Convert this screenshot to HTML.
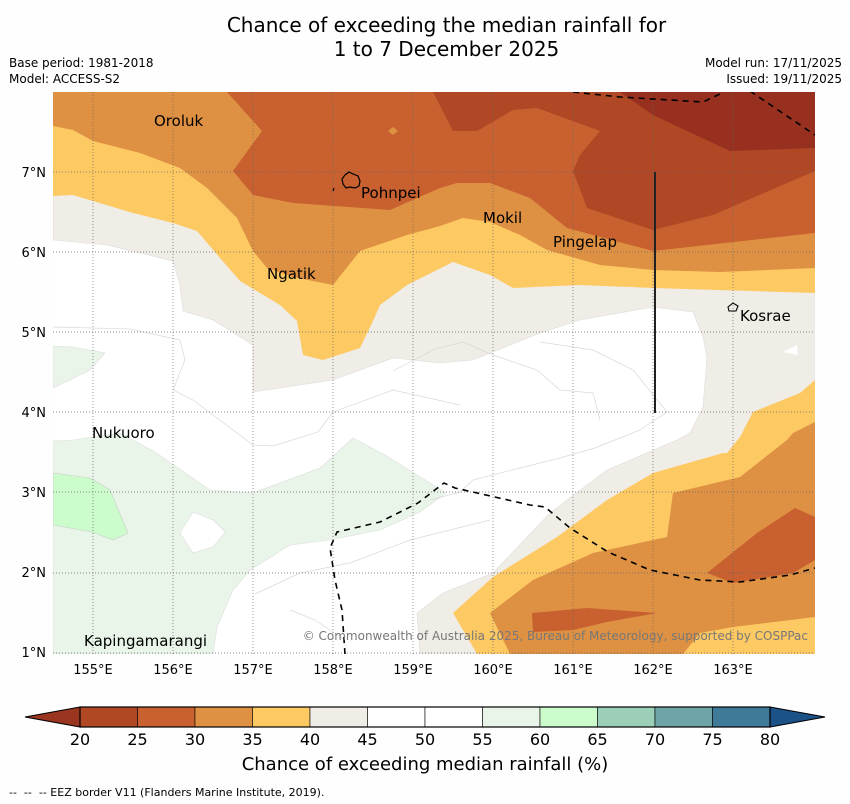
<!DOCTYPE html>
<html><head><meta charset="utf-8"><style>
body{margin:0;background:#fefefe;font-family:"DejaVu Sans","Liberation Sans",sans-serif;}
#wrap{position:relative;width:850px;height:804px;overflow:hidden;background:#fefefe;}
.t{position:absolute;white-space:nowrap;color:#000;}
</style></head><body>
<div id="wrap">
<div class="t" style="left:0;width:893px;top:13px;text-align:center;font-size:20px;line-height:24px;">Chance of exceeding the median rainfall for<br>1 to 7 December 2025</div>
<div class="t" style="left:9px;top:55px;font-size:12px;line-height:16px;">Base period: 1981-2018<br>Model: ACCESS-S2</div>
<div class="t" style="right:8px;top:55px;font-size:12px;line-height:16px;text-align:right;">Model run: 17/11/2025<br>Issued: 19/11/2025</div>
<svg id="map" width="850" height="804" style="position:absolute;left:0;top:0" xmlns="http://www.w3.org/2000/svg">
<defs><clipPath id="mc"><rect x="53" y="92" width="762" height="562"/></clipPath></defs>
<g clip-path="url(#mc)">
<rect x="53" y="92" width="762" height="562" fill="#ffffff"/>
<path fill="#f0ece6" stroke="#ddd" stroke-width="0.6" d="M53,92 L815,92 L815,654 L420,654 L417,613 L443,593 L493,573 L550,513 L607,470 L677,440 L690,433 L703,407 L707,357 L703,337 L693,312 L653,307 L580,320 L540,333 L473,360 L440,363 L393,358 L333,380 L293,386 L253,392 L253,345 L213,320 L183,311 L180,285 L173,261 L107,245 L53,240 Z"/>
<path fill="#fff" d="M783,352 L797,345 L798,355 Z"/>
<path fill="#fdc963" d="M53,92 L815,92 L815,293 L653,288 L580,285 L513,288 L490,275 L453,262 L407,285 L380,305 L373,321 L360,348 L323,360 L303,355 L297,321 L280,305 L240,281 L220,258 L197,231 L173,223 L133,213 L73,195 L53,196 Z"/>
<path fill="#fdc963" d="M815,380 L800,393 L753,412 L740,437 L727,453 L723,453 L653,473 L607,500 L557,537 L493,577 L453,613 L477,654 L815,654 Z"/>
<path fill="#df9143" d="M53,92 L815,92 L815,268 L720,272 L653,270 L600,265 L547,250 L520,235 L490,222 L463,218 L440,226 L407,235 L360,251 L333,285 L293,277 L267,268 L253,251 L237,218 L207,188 L180,168 L140,153 L93,141 L73,130 L53,126 Z"/>
<path fill="#df9143" d="M815,422 L793,433 L787,440 L740,477 L673,493 L667,537 L593,553 L533,580 L490,613 L510,654 L683,654 L700,633 L733,627 L815,617 Z"/>
<path fill="#c8602f" d="M227,92 L815,92 L815,233 L653,251 L567,228 L530,198 L490,183 L457,183 L440,188 L390,210 L293,203 L253,195 L233,171 L262,131 Z"/>
<path fill="#df9143" d="M393,127 L398,131 L393,135 L388,131 Z"/>
<path fill="#c8602f" d="M532,613 L587,608 L657,613 L607,622 L573,630 L533,632 Z"/>
<path fill="#c8602f" d="M707,573 L757,533 L795,508 L815,517 L815,560 L793,573 L733,583 Z"/>
<path fill="#b04826" d="M433,92 L815,92 L815,171 L713,215 L653,230 L587,208 L573,171 L580,155 L600,131 L537,108 L513,110 L477,131 L453,131 Z"/>
<path fill="#97301f" d="M620,92 L815,92 L815,148 L730,151 L687,131 L653,115 Z"/>
<path fill="#e9f5e9" stroke="#ddd" stroke-width="0.6" d="M53,346 L73,347 L105,353 L90,370 L70,380 L53,388 Z"/>
<path fill="#e9f5e9" stroke="#ddd" stroke-width="0.6" d="M53,441 L73,440 L120,433 L155,452 L210,490 L253,493 L320,468 L353,438 L385,455 L446,493 L420,512 L380,530 L330,540 L290,545 L250,570 L233,590 L217,627 L213,654 L53,654 Z"/>
<path fill="#fff" stroke="#ddd" stroke-width="0.6" d="M193,512 L213,520 L225,532 L213,547 L193,553 L180,533 Z"/>
<path fill="#ccfccc" stroke="#ccc" stroke-width="0.6" d="M53,473 L90,478 L110,490 L128,533 L113,540 L92,532 L53,525 Z"/>
<g fill="none" stroke="#d8d8d8" stroke-width="0.7">
<path d="M53,327 L130,329 L180,340 L185,360 L173,390 L193,400 L253,445 L273,446 L318,432 L333,412 L393,390 L460,405"/>
<path d="M540,342 L593,350 L633,370 L667,412 L640,430 L595,448 L560,458 L520,468 L473,480 L460,492 L430,500"/>
<path d="M393,371 L435,349 L463,342 L493,355 L537,370 L560,390 L593,393 L600,420"/>
<path d="M290,610 L315,620 L345,640"/>
<path d="M255,594 L300,573 L350,563 L410,540 L490,520"/>
</g>
<g stroke="#666" stroke-width="0.7" stroke-dasharray="1,2">
<line x1="93" y1="92" x2="93" y2="654"/><line x1="173" y1="92" x2="173" y2="654"/><line x1="253" y1="92" x2="253" y2="654"/><line x1="333" y1="92" x2="333" y2="654"/><line x1="413" y1="92" x2="413" y2="654"/><line x1="493" y1="92" x2="493" y2="654"/><line x1="573" y1="92" x2="573" y2="654"/><line x1="653" y1="92" x2="653" y2="654"/><line x1="733" y1="92" x2="733" y2="654"/>
<line x1="53" y1="172" x2="815" y2="172"/><line x1="53" y1="252" x2="815" y2="252"/><line x1="53" y1="332" x2="815" y2="332"/><line x1="53" y1="412" x2="815" y2="412"/><line x1="53" y1="492" x2="815" y2="492"/><line x1="53" y1="573" x2="815" y2="573"/><line x1="53" y1="653" x2="815" y2="653"/>
</g>
<g fill="none" stroke="#000" stroke-width="1.6" stroke-dasharray="6,5">
<path d="M573,92 L620,97 L703,102 L722,93"/>
<path d="M750,91 L815,135"/>
<path d="M345,654 L342,610 L335,580 L330,548 L337,532 L380,522 L418,503 L444,483 L455,488 L530,505 L545,507 L570,528 L608,552 L650,570 L700,580 L740,582 L790,575 L815,568"/>
</g>
<line x1="655" y1="172" x2="655" y2="413" stroke="#222" stroke-width="2"/>
<path fill="none" stroke="#000" stroke-width="1.2" d="M345,175 L349,172 L353,174 L358,176 L360,181 L359,186 L355,188 L350,187 L346,188 L343,184 L342,179 Z M334,188 L333,191"/>
<path fill="none" stroke="#000" stroke-width="1.1" d="M728,307 L733,303 L738,306 L736,311 L729,311 Z"/>
</g>
<g font-size="15" fill="#000">
<text x="154" y="126">Oroluk</text>
<text x="361" y="198">Pohnpei</text>
<text x="483" y="223">Mokil</text>
<text x="553" y="247">Pingelap</text>
<text x="267" y="279">Ngatik</text>
<text x="740" y="321">Kosrae</text>
<text x="92" y="438">Nukuoro</text>
<text x="84" y="646">Kapingamarangi</text>
</g>
<text x="808" y="640" text-anchor="end" font-size="12" fill="#777">© Commonwealth of Australia 2025, Bureau of Meteorology, supported by COSPPac</text>
<g id="axes" font-size="13" fill="#000"></g>
<g id="cbar"></g>
</svg>
<div class="t" style="left:0;width:850px;text-align:center;top:754px;font-size:18px;">Chance of exceeding median rainfall (%)</div>
<div class="t" style="left:9px;top:786px;font-size:11px;">--&nbsp;&nbsp;--&nbsp;&nbsp;-- EEZ border V11 (Flanders Marine Institute, 2019).</div>
</div>
<script>
const lonTicks=[155,156,157,158,159,160,161,162,163];
const latTicks=[7,6,5,4,3,2,1];
const cbarLevels=[20,25,30,35,40,45,50,55,60,65,70,75,80];
const cbarColors=["#b04824","#c8602f","#df9143","#fdc963","#f0ece6","#ffffff","#ffffff","#e9f5e9","#ccfccc","#9ccfb8","#6ea5a8","#3f7a98"];
const underColor="#9a3520", overColor="#1c5288";
const NS="http://www.w3.org/2000/svg";
const xLon=l=>93+(l-155)*80, yLat=l=>652-(l-1)*80;
const xCb=v=>80+(v-20)*(690/60);
function mk(t,a,p){const e=document.createElementNS(NS,t);for(const k in a)e.setAttribute(k,a[k]);p.appendChild(e);return e;}
const ax=document.getElementById('axes');
lonTicks.forEach(l=>{const t=mk('text',{x:xLon(l),y:674,'text-anchor':'middle'},ax);t.textContent=l+'°E';

});
latTicks.forEach(l=>{const t=mk('text',{x:46,y:yLat(l)+5,'text-anchor':'end'},ax);t.textContent=l+'°N';

});
const cb=document.getElementById('cbar');


const y0=707,y1=727;
const lt=mk('polygon',{points:`${xCb(20)},${y0} 25,${(y0+y1)/2} ${xCb(20)},${y1}`,fill:underColor,stroke:'#000','stroke-width':1},cb);


const rt=mk('polygon',{points:`${xCb(80)},${y0} 825,${(y0+y1)/2} ${xCb(80)},${y1}`,fill:overColor,stroke:'#000','stroke-width':1},cb);


cbarColors.forEach((c,i)=>{const r=mk('rect',{x:xCb(cbarLevels[i]),y:y0,width:xCb(cbarLevels[i+1])-xCb(cbarLevels[i]),height:y1-y0,fill:c,stroke:'#000','stroke-width':0.6},cb);

});
mk('rect',{x:xCb(20),y:y0,width:xCb(80)-xCb(20),height:y1-y0,fill:'none',stroke:'#000','stroke-width':1.2},cb);
cbarLevels.forEach(v=>{const t=mk('text',{x:xCb(v),y:745,'text-anchor':'middle','font-size':16},cb);t.textContent=v;

});
</script>
</body></html>
